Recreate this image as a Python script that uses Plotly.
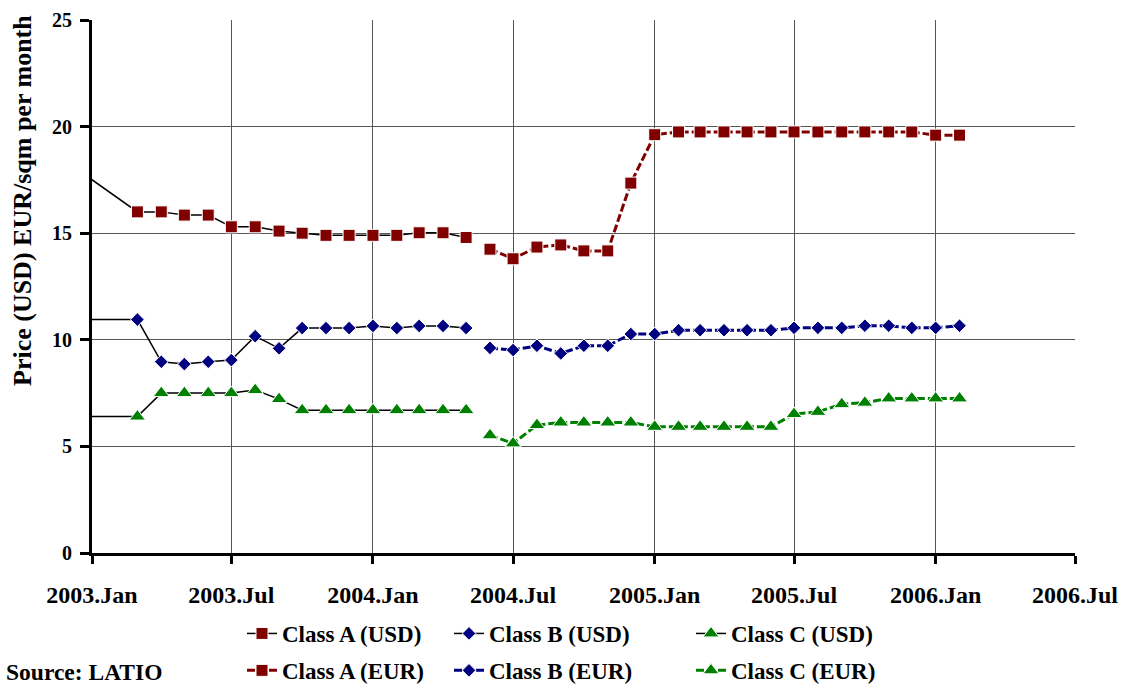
import plotly.graph_objects as go

# ---- data ----
usd_months = ['2002-12-01', '2003-03-01', '2003-04-01', '2003-05-01', '2003-06-01', '2003-07-01',
              '2003-08-01', '2003-09-01', '2003-10-01', '2003-11-01', '2003-12-01',
              '2004-01-01', '2004-02-01', '2004-03-01', '2004-04-01', '2004-05-01']
class_a_usd = [18.3, 16.0, 16.0, 15.85, 15.85, 15.3, 15.3, 15.1, 15.0, 14.9, 14.9,
               14.9, 14.9, 15.02, 15.02, 14.8]
class_b_usd = [10.95, 10.95, 8.97, 8.86, 8.97, 9.05, 10.17, 9.6, 10.55, 10.55, 10.55,
               10.65, 10.55, 10.65, 10.65, 10.55]
class_c_usd = [6.4, 6.4, 7.5, 7.5, 7.5, 7.5, 7.64, 7.22, 6.7, 6.7, 6.7,
               6.7, 6.7, 6.7, 6.7, 6.7]

eur_months = ['2004-06-01', '2004-07-01', '2004-08-01', '2004-09-01', '2004-10-01', '2004-11-01',
              '2004-12-01', '2005-01-01', '2005-02-01', '2005-03-01', '2005-04-01', '2005-05-01',
              '2005-06-01', '2005-07-01', '2005-08-01', '2005-09-01', '2005-10-01', '2005-11-01',
              '2005-12-01', '2006-01-01', '2006-02-01']
class_a_eur = [14.25, 13.8, 14.35, 14.45, 14.17, 14.17, 17.35, 19.62, 19.75, 19.75, 19.75,
               19.75, 19.75, 19.75, 19.75, 19.75, 19.75, 19.75, 19.75, 19.6, 19.6]
class_b_eur = [9.62, 9.52, 9.72, 9.36, 9.72, 9.72, 10.27, 10.27, 10.45, 10.45, 10.45,
               10.45, 10.45, 10.56, 10.56, 10.56, 10.66, 10.66, 10.56, 10.56, 10.66]
class_c_eur = [5.52, 5.14, 6.0, 6.12, 6.12, 6.12, 6.12, 5.92, 5.92, 5.92, 5.92,
               5.92, 5.92, 6.52, 6.62, 6.98, 7.05, 7.25, 7.25, 7.25, 7.25]

tick_vals = ['2003-01-01', '2003-07-01', '2004-01-01', '2004-07-01',
             '2005-01-01', '2005-07-01', '2006-01-01', '2006-07-01']
tick_text = ['2003.Jan', '2003.Jul', '2004.Jan', '2004.Jul',
             '2005.Jan', '2005.Jul', '2006.Jan', '2006.Jul']

# ---- styles ----
SERIF = 'Liberation Serif, Times New Roman, serif'
RED, BLUE, GREEN = '#800000', '#000080', '#008000'

W, H = 1122, 686
ML, MR, MT, MB = 92, 47, 20, 133
PW, PH = W - ML - MR, H - MT - MB


def px_x(px):
    return (px - ML) / PW


def px_y(py):
    return (H - MB - py) / PH


fig = go.Figure()

series = [
    ('Class A (USD)', usd_months, class_a_usd, RED, 'square', 12, 'black', 1.5, 'solid', 'legend'),
    ('Class A (EUR)', eur_months, class_a_eur, RED, 'square', 12, RED, 3, '8px,3px', 'legend'),
    ('Class B (USD)', usd_months, class_b_usd, BLUE, 'diamond', 10.5, 'black', 1.5, 'solid', 'legend2'),
    ('Class B (EUR)', eur_months, class_b_eur, BLUE, 'diamond', 10.5, BLUE, 3, '8px,3px', 'legend2'),
    ('Class C (USD)', usd_months, class_c_usd, GREEN, 'triangle-up', 14, 'black', 1.5, 'solid', 'legend3'),
    ('Class C (EUR)', eur_months, class_c_eur, GREEN, 'triangle-up', 14, GREEN, 3, '8px,3px', 'legend3'),
]

for name, xs, ys, mcol, sym, size, lcol, lw, dash, leg in series:
    fig.add_trace(go.Scatter(
        x=xs, y=ys, name=name, mode='lines+markers',
        line=dict(color=lcol, width=lw, dash=dash),
        marker=dict(symbol=sym, size=size, color=mcol, line=dict(color='white', width=1)),
        legend=leg, legendgroup=name,
    ))

leg_font = dict(family=SERIF, size=23, color='black', weight='bold')
leg_common = dict(orientation='v', xref='container', yref='container',
                  xanchor='left', yanchor='top', y=(H - 612) / H,
                  font=leg_font, bgcolor='rgba(0,0,0,0)', traceorder='grouped',
                  tracegroupgap=4)

fig.update_layout(
    width=W, height=H,
    margin=dict(l=ML, r=MR, t=MT, b=MB, pad=0, autoexpand=False),
    plot_bgcolor='white', paper_bgcolor='white',
    showlegend=True,
    legend=dict(x=242 / W, **leg_common),
    legend2=dict(x=449 / W, **leg_common),
    legend3=dict(x=691 / W, **leg_common),
    xaxis=dict(
        type='date', range=['2003-01-01', '2006-07-01'],
        tickmode='array', tickvals=tick_vals, ticktext=tick_text,
        showgrid=True, gridcolor='#555555', gridwidth=1,
        showline=True, linecolor='black', linewidth=3,
        ticks='outside', ticklen=8, tickwidth=3, tickcolor='black',
        tickfont=dict(family=SERIF, size=24, color='black', weight='bold'),
        ticklabelstandoff=10,
        zeroline=False,
    ),
    yaxis=dict(
        range=[0, 25], tickmode='linear', tick0=0, dtick=5,
        showgrid=True, gridcolor='#555555', gridwidth=1,
        showline=True, linecolor='black', linewidth=3,
        ticks='outside', ticklen=9, tickwidth=3, tickcolor='black',
        tickfont=dict(family=SERIF, size=20, color='black', weight='bold'),
        ticklabelstandoff=4,
        zeroline=False,
    ),
    annotations=[
        dict(text='Price (USD) EUR/sqm per month', xref='paper', yref='paper',
             x=px_x(22), y=px_y(201), xanchor='center', yanchor='middle',
             textangle=-90, showarrow=False,
             font=dict(family=SERIF, size=26, color='black', weight='bold')),
        dict(text='Source: LATIO', xref='paper', yref='paper',
             x=px_x(4), y=px_y(672), xanchor='left', yanchor='middle',
             showarrow=False,
             font=dict(family=SERIF, size=23.5, color='black', weight='bold')),
    ],
)

fig.write_html('out.html')
